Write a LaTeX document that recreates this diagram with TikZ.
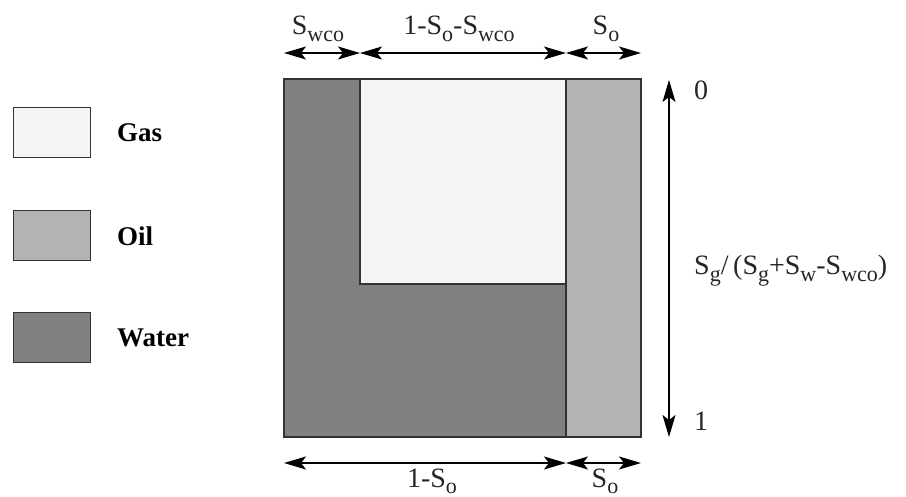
\documentclass[tikz,border=0pt]{standalone}
\usepackage{fontspec}
\setmainfont{Liberation Serif}
\usetikzlibrary{arrows.meta}
\definecolor{gascol}{HTML}{F5F5F5}
\definecolor{oilcol}{HTML}{B3B3B3}
\definecolor{watcol}{HTML}{808080}
\newcommand\lowsub[1]{\raisebox{-6.5pt}{\fontsize{22}{24}\selectfont #1}}
\begin{document}
\begin{tikzpicture}[x=1pt,y=-1pt,
  region/.style={draw=black!80,line width=1.4pt},
  legbox/.style={draw=black!80,line width=1.4pt,minimum width=77pt,minimum height=50pt,inner sep=0pt,anchor=north west},
  legtext/.style={font=\fontsize{27}{31}\selectfont\bfseries,anchor=west,inner sep=0pt},
  lab/.style={font=\fontsize{28}{32}\selectfont,inner sep=0pt,text=black!85},
  dim/.style={line width=1.2pt,{Stealth[length=22pt,width=13pt,inset=5pt]}-{Stealth[length=22pt,width=13pt,inset=5pt]}}]
\useasboundingbox (0,0) rectangle (906,497);
% main diagram
\fill[watcol] (284,79) rectangle (566,437);
\fill[gascol] (360,79) rectangle (566,284);
\fill[oilcol] (566,79) rectangle (641,437);
\draw[region] (284,79) rectangle (641,437);
\draw[region] (360,79) -- (360,284) -- (566,284);
\draw[region] (566,79) -- (566,437);
% legend
\node[legbox,fill=gascol] (lg) at (13,107) {};
\node[legbox,fill=oilcol] (lo) at (13,210) {};
\node[legbox,fill=watcol] (lw) at (13,312) {};
\node[legtext] (tg) at (117,133) {Gas};
\node[legtext] (to) at (117,236) {Oil};
\node[legtext] (tw) at (117,338) {Water};
% top dimension coordinates
\coordinate (t0) at (284,53);
\coordinate (t1) at (360,53);
\coordinate (t2) at (566,53);
\coordinate (t3) at (641,53);
\draw[dim] (t0) -- (t1);
\draw[dim] (t1) -- (t2);
\draw[dim] (t2) -- (t3);
\node[lab,anchor=base] (l1) at (318,35) {S\lowsub{wco}};
\node[lab,anchor=base] (l2) at (459,35) {1-S\lowsub{o}-S\lowsub{wco}};
\node[lab,anchor=base] (l3) at (606,35) {S\lowsub{o}};
% bottom dimension coordinates
\coordinate (b0) at (284,463);
\coordinate (b1) at (566,463);
\coordinate (b2) at (641,463);
\draw[dim] (b0) -- (b1);
\draw[dim] (b1) -- (b2);
\node[lab,anchor=base] (l4) at (432,487) {1-S\lowsub{o}};
\node[lab,anchor=base] (l5) at (605,487) {S\lowsub{o}};
% right vertical
\coordinate (r0) at (669,80);
\coordinate (r1) at (669,437);
\draw[dim] (r0) -- (r1);
\node[lab,anchor=base west] (z0) at (694,100) {0};
\node[lab,anchor=base west] (z1) at (694,431) {1};
\node[lab,anchor=base west] (sg) at (694,275) {S\lowsub{g}/\,(S\lowsub{g}+S\lowsub{w}-S\lowsub{wco})};
\end{tikzpicture}
\end{document}
